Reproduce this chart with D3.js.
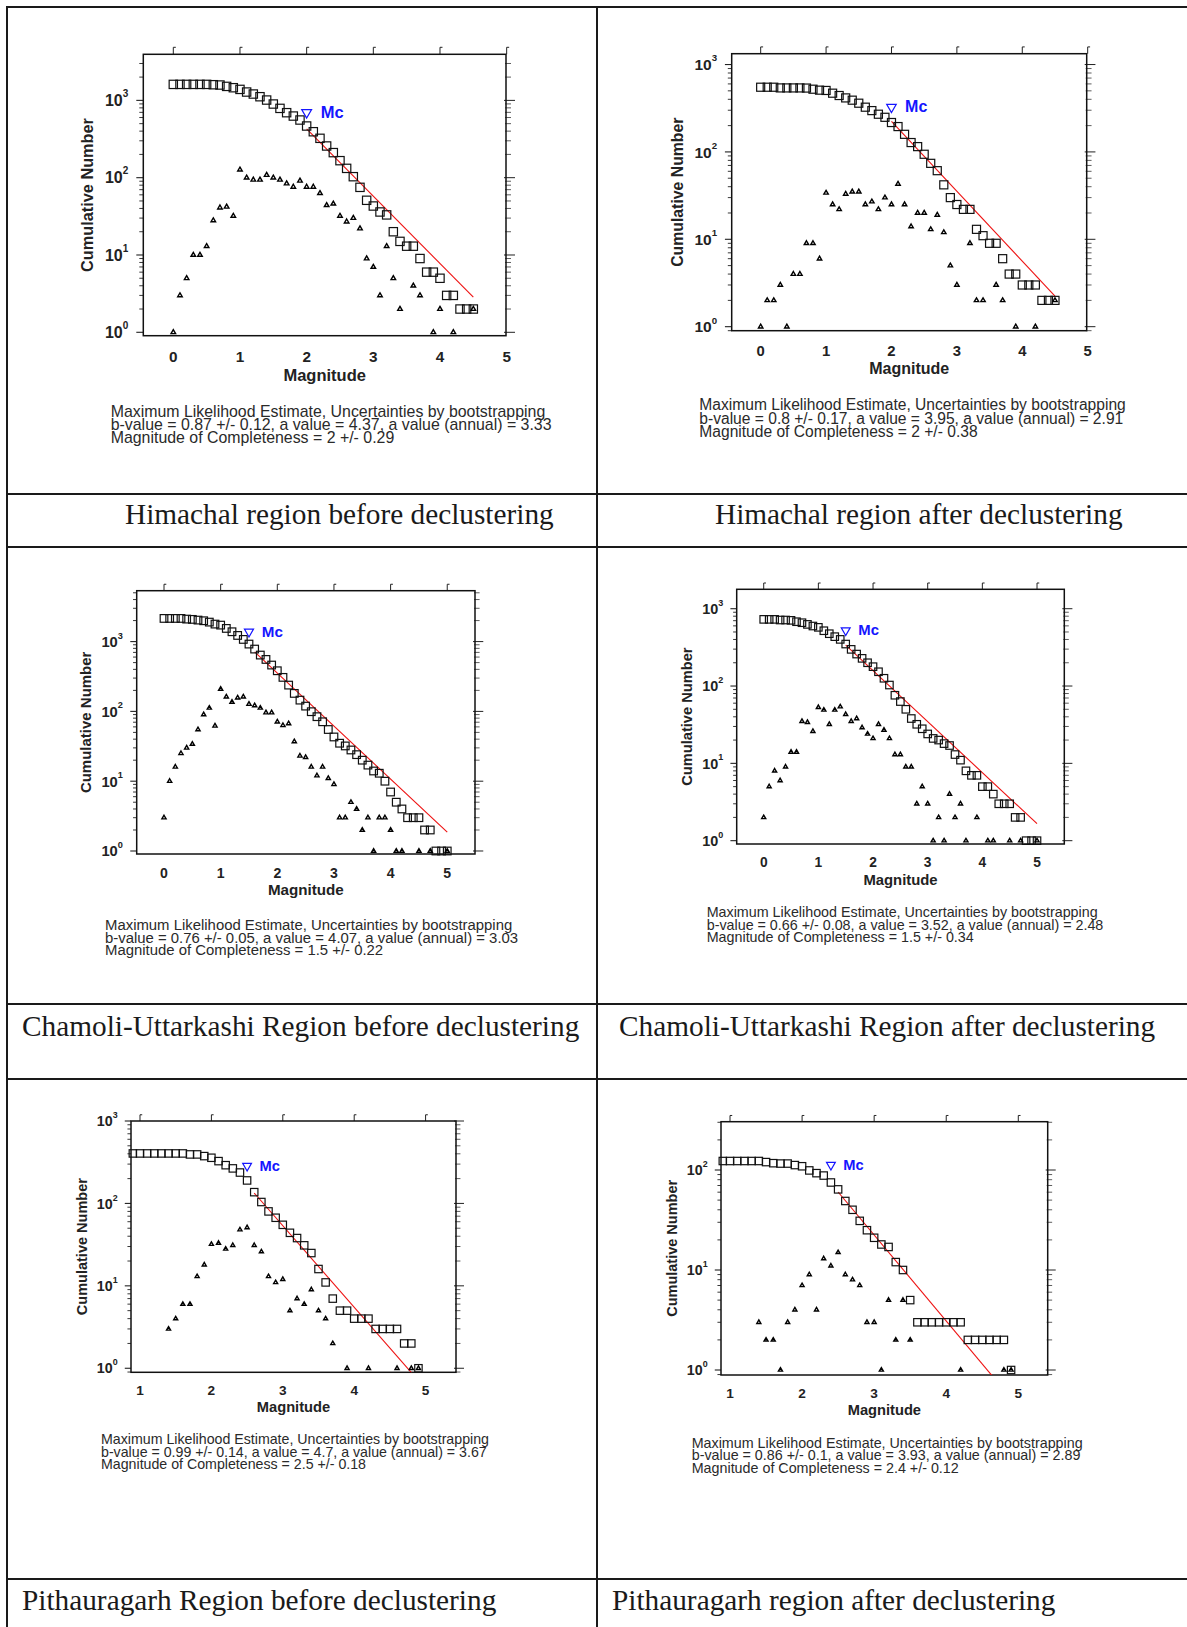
<!DOCTYPE html>
<html>
<head>
<meta charset="utf-8">
<script src="https://cdn.jsdelivr.net/npm/d3@7"></script>
<style>
body { margin: 0; background: #fff; }
svg text { font-family: "Liberation Sans", Arial, sans-serif; }
.caption { font-family: "Liberation Serif", "Times New Roman", serif; }
</style>
</head>
<body>
<svg id="fig" width="1187" height="1627"></svg>
<script>
// ---- data ----
var captions = [
  "Himachal region before declustering",
  "Himachal region after declustering",
  "Chamoli-Uttarkashi Region before declustering",
  "Chamoli-Uttarkashi Region after declustering",
  "Pithauragarh Region before declustering",
  "Pithauragarh region after declustering"
];

// first magnitude bin of each panel (bins are 0.1 wide)
var magStart = [0, 0, 0, 0, 0.9, 0.9];

// cumulative number (squares)
var cumHimBefore = [1610,1610,1610,1610,1610,1610,1594,1580,1517,1458,
  1387,1282,1208,1115,1010,897,788,693,627,557,
  466,393,323,257,211,166,132,103,75,51,
  43,36,33,20,15,13,13,9,6,6,
  5,3,3,2,2,2];
var cumHimAfter = [550,550,550,540,540,540,540,538,522,509,
  505,470,442,415,391,361,325,297,270,249,
  217,195,159,128,115,94,74,61,42,30,
  25,22,22,13,11,9,9,6,4,4,
  3,3,3,2,2,2];
var cumChaBefore = [2147,2147,2147,2147,2100,2080,2032,1988,1901,1781,
  1722,1544,1383,1225,1074,921,781,641,555,461,
  382,307,238,181,145,119,99,84,71,55,
  43,35,32,28,24,20,17,14,13,10,
  7,5,4,3,3,3,2,2,1,1,
  1];
var cumChaAfter = [728,728,728,714,714,707,679,659,627,597,
  574,519,475,435,401,349,298,259,228,200,
  178,153,126,103,76,63,50,38,32,28,
  24,21,20,18,17,13,11,8,7,7,
  5,5,4,3,3,3,2,2,1,1,
  1];
var cumPitBefore = [404,404,404,404,404,404,404,404,393,393,
  375,358,326,291,266,237,190,137,104,80,
  67,55,44,38,31,25,16,11,7,5,
  5,4,4,4,3,3,3,3,2,2,
  1];
var cumPitAfter = [123,123,123,123,123,123,120,117,116,116,
  112,109,99,93,88,75,64,49,40,31,
  25,21,18,17,12,10,5,3,3,3,
  3,3,3,3,2,2,2,2,2,2,
  1];

// non-cumulative number per bin (triangles), 0 = no event
var cntHimBefore = [1,3,5,10,10,13,28,41,42,32,
  127,100,94,94,108,100,94,84,76,91,
  76,76,63,44,46,32,27,30,22,9,
  7,3,13,5,2,0,4,3,0,1,
  2,0,1,0,0,2];
var cntHimAfter = [1,2,2,3,1,4,4,9,9,6,
  34,25,22,33,35,35,25,27,22,30,
  25,43,25,14,20,20,13,19,12,5,
  3,0,9,2,2,0,3,2,0,1,
  0,0,1,0,0,2];
var cntChaBefore = [3,10,16,25,30,34,55,90,112,62,
  209,162,136,157,162,127,121,112,96,96,
  71,63,67,37,23,22,16,12,16,11,
  9,3,3,5,4,2,3,1,3,3,
  2,1,1,0,0,1,0,1,0,0,
  1];
var cntChaAfter = [2,5,8,6,9,14,14,35,34,26,
  53,49,32,49,54,43,35,38,29,24,
  21,32,27,21,13,13,9,9,3,5,
  3,1,2,1,4,2,3,1,0,2,
  0,1,1,0,0,1,0,1,0,0,
  1];
var cntPitBefore = [0,0,0,0,0,3,4,6,6,13,
  18,32,33,28,31,48,51,31,26,13,
  11,12,5,7,6,9,5,4,2,0,
  1,0,0,1,0,0,0,1,0,1,
  1];
var cntPitAfter = [0,0,0,0,0,3,2,2,1,3,
  4,7,9,4,13,11,15,9,8,7,
  3,3,1,5,2,5,2,0,0,0,
  0,0,0,1,0,0,0,0,0,1,
  1];

var cumSeries = [cumHimBefore, cumHimAfter, cumChaBefore, cumChaAfter, cumPitBefore, cumPitAfter];
var cntSeries = [cntHimBefore, cntHimAfter, cntChaBefore, cntChaAfter, cntPitBefore, cntPitAfter];

// maximum likelihood results printed under each plot
var bValues  = [0.87, 0.8, 0.76, 0.66, 0.99, 0.86];
var bErr     = [0.12, 0.17, 0.05, 0.08, 0.14, 0.1];
var aValues  = [4.37, 3.95, 4.07, 3.52, 4.7, 3.93];
var aAnnual  = [3.33, 2.91, 3.03, 2.48, 3.67, 2.89];
var mcValues = [2, 2, 1.5, 1.5, 2.5, 2.4];
var mcErr    = [0.29, 0.38, 0.22, 0.34, 0.18, 0.12];
// magnitude range covered by the red fit line
var fitStart = [2.0, 2.0, 1.6, 1.5, 2.6, 2.5];
var fitEnd   = [4.5, 4.5, 5.0, 5.0, 4.9, 4.9];

var xTickVals = [[0,1,2,3,4,5],[0,1,2,3,4,5],[0,1,2,3,4,5],[0,1,2,3,4,5],[1,2,3,4,5],[1,2,3,4,5]];

// ---- layout ----
var layout = [
  {box:[143.3,54.3,506,335.7],   xd:[-0.45,4.99],  yd:[-0.044,3.596], s:1,    tx:110.7, ty:417.3,  tl:13,   tf:15.9},
  {box:[731.7,53.7,1086.7,330.7],xd:[-0.443,4.985],yd:[-0.046,3.124], s:0.97, tx:699.3, ty:410,    tl:13.5, tf:15.6},
  {box:[136.7,590.7,475,854],    xd:[-0.482,5.49], yd:[-0.043,3.729], s:0.92, tx:105,   ty:930,    tl:12.5, tf:14.9},
  {box:[736.7,589.3,1064.3,844], xd:[-0.494,5.499],yd:[-0.043,3.251], s:0.9,  tx:706.7, ty:917.3,  tl:12.2, tf:14.3},
  {box:[131,1121,456,1372.3],    xd:[0.874,5.426], yd:[-0.049,3.0],   s:0.89, tx:101,   ty:1444.3, tl:12.4, tf:14.2},
  {box:[721,1121.7,1047.7,1375], xd:[0.875,5.408], yd:[-0.05,2.483],  s:0.89, tx:691.7, ty:1447.7, tl:12.7, tf:14.3}
];
var capX = [125, 715, 22, 619, 22, 612];
var capY = [524, 524, 1036, 1036, 1610, 1610];

var svg = d3.select("#fig");

// table rules
var lineCol = "#1a1a1a";
[7, 494, 547, 1004, 1079, 1579].forEach(function(y){
  svg.append("line").attr("x1",6).attr("x2",1187).attr("y1",y).attr("y2",y)
    .attr("stroke",lineCol).attr("stroke-width",2);
});
[7, 597].forEach(function(x){
  svg.append("line").attr("x1",x).attr("x2",x).attr("y1",6).attr("y2",1627)
    .attr("stroke",lineCol).attr("stroke-width",2);
});

svg.selectAll("text.caption").data(captions).enter().append("text")
  .attr("class","caption")
  .attr("x",function(d,i){ return capX[i]; })
  .attr("y",function(d,i){ return capY[i]; })
  .attr("font-size",29.3).attr("fill","#1a1a1a")
  .text(function(d){ return d; });

layout.forEach(function(L, p){ drawPanel(L, p); });

function drawPanel(L, p){
  var s = L.s;
  var left = L.box[0], top = L.box[1], right = L.box[2], bottom = L.box[3];
  var x = d3.scaleLinear().domain(L.xd).range([left, right]);
  var y = d3.scaleLog().domain([Math.pow(10,L.yd[0]), Math.pow(10,L.yd[1])]).range([bottom, top]);
  var g = svg.append("g");

  var clipId = "clip" + p;
  g.append("clipPath").attr("id",clipId).append("rect")
    .attr("x",left).attr("y",top).attr("width",right-left).attr("height",bottom-top);

  // log ticks
  var major = [], minor = [];
  for (var k = Math.floor(L.yd[0]); k <= Math.ceil(L.yd[1]); k++){
    for (var m = 1; m <= 9; m++){
      var v = m * Math.pow(10,k);
      if (Math.log10(v) < L.yd[0] - 1e-6 || Math.log10(v) > L.yd[1] + 1e-6) continue;
      if (m == 1) major.push(v); else minor.push(v);
    }
  }

  // left and right tick marks
  g.selectAll("line.lmin").data(minor).enter().append("line")
    .attr("x1",left).attr("x2",left-4*s).attr("y1",function(d){return y(d);}).attr("y2",function(d){return y(d);})
    .attr("stroke","#222").attr("stroke-width",0.9);
  g.selectAll("line.lmaj").data(major).enter().append("line")
    .attr("x1",left).attr("x2",left-7*s).attr("y1",function(d){return y(d);}).attr("y2",function(d){return y(d);})
    .attr("stroke","#222").attr("stroke-width",1.1);
  g.selectAll("line.rmin").data(minor).enter().append("line")
    .attr("x1",right-1).attr("x2",right+5*s).attr("y1",function(d){return y(d);}).attr("y2",function(d){return y(d);})
    .attr("stroke","#333").attr("stroke-width",0.8);
  g.selectAll("line.rmaj").data(major).enter().append("line")
    .attr("x1",right-2).attr("x2",right+9*s).attr("y1",function(d){return y(d);}).attr("y2",function(d){return y(d);})
    .attr("stroke","#222").attr("stroke-width",1);

  // top ticks with small hook
  g.selectAll("path.ttick").data(xTickVals[p]).enter().append("path")
    .attr("d",function(d){
      var xx = x(d);
      return "M"+xx+","+top+"L"+xx+","+(top-7*s)+"L"+(xx+2.5*s)+","+(top-7*s);
    })
    .attr("fill","none").attr("stroke","#222").attr("stroke-width",1);

  // box
  g.append("rect").attr("x",left).attr("y",top).attr("width",right-left).attr("height",bottom-top)
    .attr("fill","none").attr("stroke","#111").attr("stroke-width",1.5);

  // x tick labels
  g.selectAll("text.xt").data(xTickVals[p]).enter().append("text")
    .attr("x",function(d){ return x(d); }).attr("y",bottom+26*s)
    .attr("text-anchor","middle").attr("font-weight","bold").attr("font-size",15.3*s).attr("fill","#222")
    .text(function(d){ return d; });

  // y tick labels 10^k
  var yl = g.selectAll("text.yt").data(major).enter().append("text")
    .attr("x",left-15*s).attr("y",function(d){ return y(d)+5.8*s; })
    .attr("text-anchor","end").attr("font-weight","bold").attr("fill","#222");
  yl.append("tspan").attr("font-size",16*s).text("10");
  yl.append("tspan").attr("font-size",10*s).attr("dy",-9*s)
    .text(function(d){ return Math.round(Math.log10(d)); });

  // axis titles
  g.append("text").attr("x",(left+right)/2).attr("y",bottom+45*s)
    .attr("text-anchor","middle").attr("font-weight","bold").attr("font-size",16.5*s).attr("fill","#222")
    .text("Magnitude");
  g.append("text")
    .attr("transform","translate("+(left-50*s)+","+((top+bottom)/2)+") rotate(-90)")
    .attr("text-anchor","middle").attr("font-weight","bold").attr("font-size",16.3*s).attr("fill","#222")
    .text("Cumulative Number");

  // points
  var cum = cumSeries[p].map(function(v,i){ return {m: magStart[p] + i*0.1, n: v}; });
  var cnt = cntSeries[p].map(function(v,i){ return {m: magStart[p] + i*0.1, n: v}; })
    .filter(function(d){ return d.n > 0; });

  // Gutenberg-Richter fit line
  var fit = [fitStart[p], fitEnd[p]].map(function(m){
    return {m: m, n: Math.pow(10, aValues[p] - bValues[p]*m)};
  });
  var line = d3.line().x(function(d){ return x(d.m); }).y(function(d){ return y(d.n); });
  g.append("path").datum(fit).attr("d",line).attr("clip-path","url(#"+clipId+")")
    .attr("fill","none").attr("stroke","#ee1111").attr("stroke-width",1.1);

  var sq = 8.3*s;
  g.selectAll("rect.cum").data(cum).enter().append("rect")
    .attr("x",function(d){ return x(d.m)-sq/2; }).attr("y",function(d){ return y(d.n)-sq/2; })
    .attr("width",sq).attr("height",sq)
    .attr("fill","none").attr("stroke","#111").attr("stroke-width",1.2);

  var tri = d3.symbol(d3.symbolTriangle, 9*s*s);
  g.selectAll("path.cnt").data(cnt).enter().append("path")
    .attr("transform",function(d){ return "translate("+x(d.m)+","+y(d.n)+")"; })
    .attr("d",tri).attr("fill","#fff").attr("stroke","#000").attr("stroke-width",1.4);

  // Mc marker sits a little above the cumulative curve at Mc
  var mcIdx = Math.round((mcValues[p]-magStart[p])/0.1);
  var mcN = cumSeries[p][mcIdx]*1.5;
  g.append("path")
    .attr("transform","translate("+x(mcValues[p])+","+y(mcN)+") rotate(180)")
    .attr("d",d3.symbol(d3.symbolTriangle, 42*s*s))
    .attr("fill","none").attr("stroke","#1515ff").attr("stroke-width",1.2);
  g.append("text").attr("x",x(mcValues[p])+14*s).attr("y",y(mcN)+5.5*s)
    .attr("font-weight","bold").attr("font-size",16.5*s).attr("fill","#1515ff")
    .text("Mc");

  // result text
  var lines = [
    "Maximum Likelihood Estimate, Uncertainties by bootstrapping",
    "b-value = " + bValues[p] + " +/- " + bErr[p] + ", a value = " + aValues[p] + ", a value (annual) = " + aAnnual[p],
    "Magnitude of Completeness = " + mcValues[p] + " +/- " + mcErr[p]
  ];
  g.selectAll("text.res").data(lines).enter().append("text")
    .attr("x",L.tx).attr("y",function(d,i){ return L.ty + i*L.tl; })
    .attr("font-size",L.tf).attr("fill","#2a2a2a")
    .text(function(d){ return d; });
}
</script>
</body>
</html>
